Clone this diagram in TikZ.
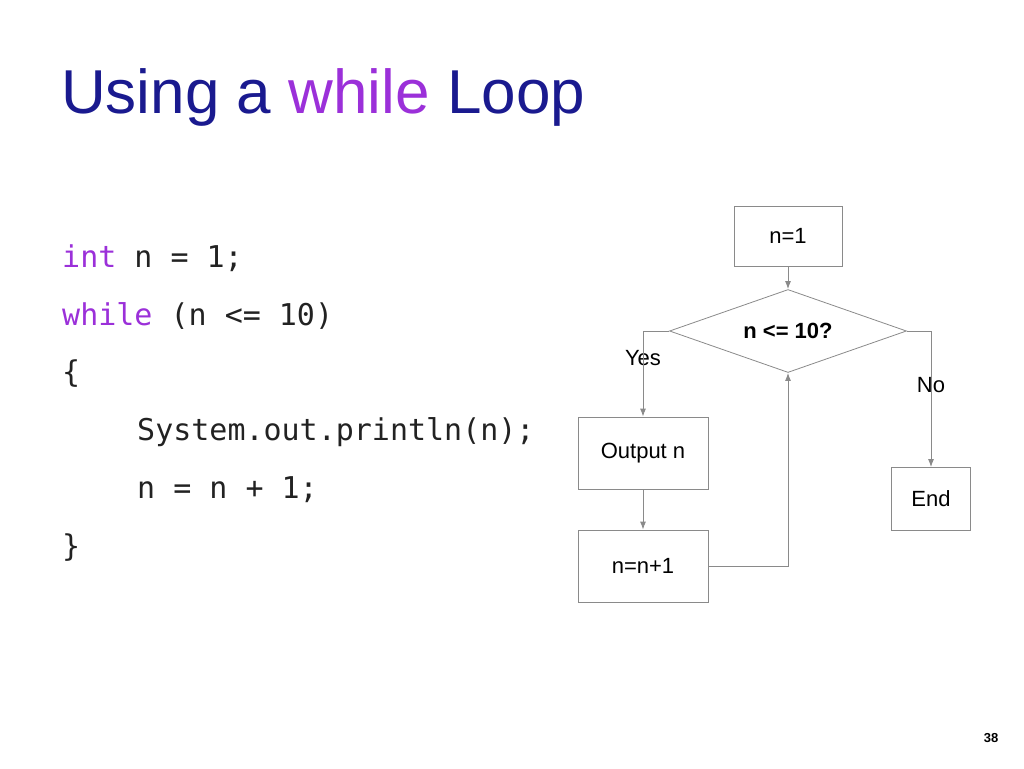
\documentclass[tikz,border=0pt]{standalone}
\usepackage{fontspec}
\setmainfont{Liberation Sans}
\newfontfamily\codefont{DejaVu Sans Mono}
\usetikzlibrary{shapes.geometric,arrows.meta}
\definecolor{navy}{HTML}{1A1A8F}
\definecolor{purp}{HTML}{9B30D9}
\definecolor{codec}{HTML}{222222}
\definecolor{edge}{HTML}{8A8A8A}
\tikzset{
 box/.style={draw=edge,line width=0.8pt,minimum width=#1,font=\fontsize{22}{24}\selectfont,inner sep=0pt},
 conn/.style={draw=edge,line width=0.9pt,-{Latex[length=8pt,width=6pt]}},
 code/.style={anchor=west,font=\codefont\fontsize{30}{32}\selectfont,text=codec,inner sep=0pt},
 lbl/.style={font=\fontsize{22}{24}\selectfont,inner sep=0pt}
}
\begin{document}
\begin{tikzpicture}[x=1pt,y=-1pt]
\useasboundingbox (0,0) rectangle (1024,768);
\node[anchor=west,inner sep=0pt,font=\fontsize{62}{68}\selectfont] (title) at (61,97) {\textcolor{navy}{Using a} \textcolor{purp}{while} \textcolor{navy}{Loop}};
\node[code] (c1) at (62,258) {\textcolor{purp}{int} n = 1;};
\node[code] (c2) at (62,316) {\textcolor{purp}{while} (n <= 10)};
\node[code] (c3) at (62,374) {\{};
\node[code] (c4) at (137,432) {System.out.println(n);};
\node[code] (c5) at (137,490) {n = n + 1;};
\node[code] (c6) at (62,548) {\}};
\node[box=108pt,minimum height=60pt] (n1) at (788,236) {n=1};
\node[draw=edge,line width=0.8pt,diamond,aspect=2.85,minimum width=237pt,minimum height=83pt,inner sep=0pt,font=\bfseries\fontsize{22}{24}\selectfont] (d) at (788,331) {n <= 10?};
\node[box=130pt,minimum height=72pt] (out) at (643,453) {Output n};
\node[box=130pt,minimum height=72pt] (inc) at (643,566) {n=n+1};
\node[box=79pt,minimum height=63pt] (end) at (931,499) {End};
\node[lbl] (yes) at (643,358) {Yes};
\node[lbl] (no) at (931,385) {No};
\coordinate (dl) at (643,331);
\coordinate (dr) at (931,331);
\coordinate (ir) at (788,566);
\draw[conn] (n1) -- (d);
\draw[conn] (d.west) -- (dl) -- (out.north);
\draw[conn] (d.east) -- (dr) -- (end.north);
\draw[conn] (out) -- (inc);
\draw[conn] (inc.east) -- (ir) -- (d.south);
\node[font=\bfseries\fontsize{13}{14}\selectfont] (pg) at (991,738) {38};
\end{tikzpicture}
\end{document}
